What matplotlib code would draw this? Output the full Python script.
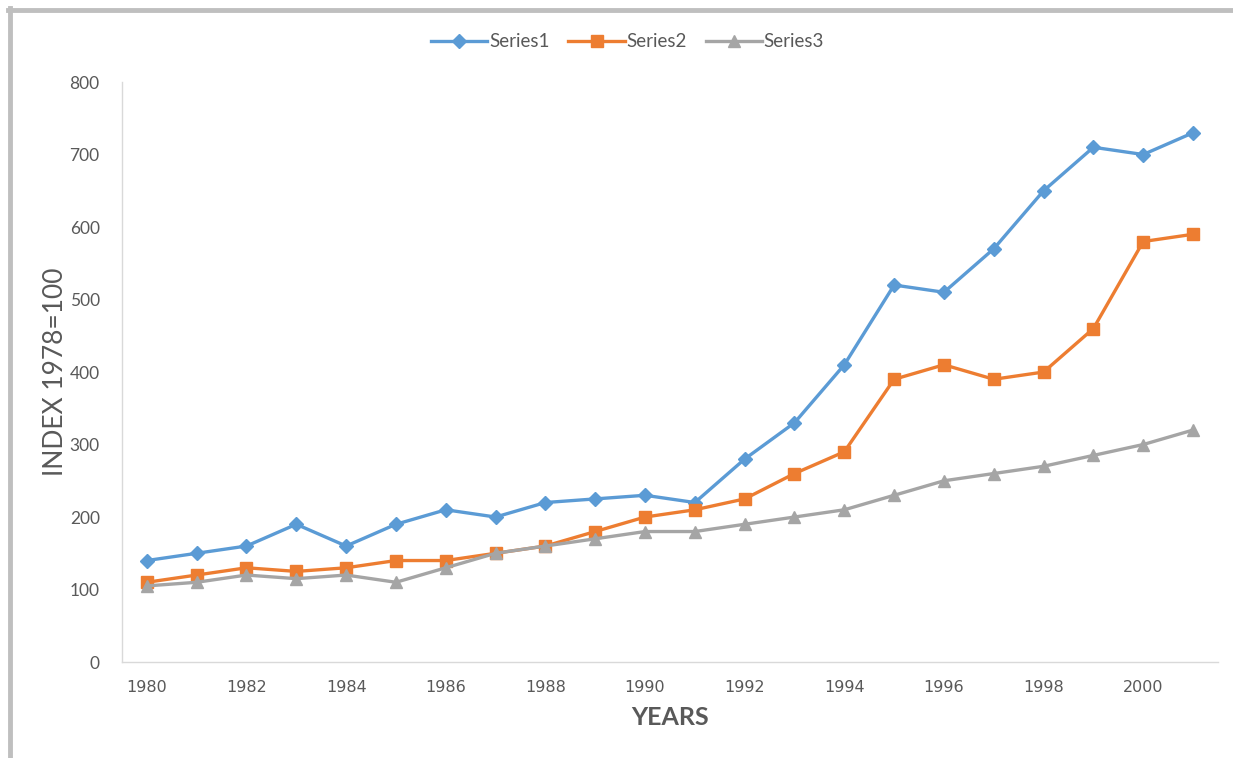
import matplotlib.pyplot as plt
from matplotlib.lines import Line2D

plt.rcParams['font.family'] = ['Lato', 'DejaVu Sans']

years = list(range(1980, 2002))
series1 = [140, 150, 160, 190, 160, 190, 210, 200, 220, 225, 230, 220,
           280, 330, 410, 520, 510, 570, 650, 710, 700, 730]
series2 = [110, 120, 130, 125, 130, 140, 140, 150, 160, 180, 200, 210,
           225, 260, 290, 390, 410, 390, 400, 460, 580, 590]
series3 = [105, 110, 120, 115, 120, 110, 130, 150, 160, 170, 180, 180,
           190, 200, 210, 230, 250, 260, 270, 285, 300, 320]
y_ticks = [0, 100, 200, 300, 400, 500, 600, 700, 800]

text_col = '#595959'
axis_col = '#D9D9D9'

fig = plt.figure(figsize=(12.33, 7.58), dpi=100)
ax = fig.add_axes([0.0989, 0.1266, 0.8889, 0.7652])

x = list(range(len(years)))
ax.plot(x, series1, color='#5B9BD5', lw=2.4, marker='D', ms=7, label='Series1')
ax.plot(x, series2, color='#ED7D31', lw=2.4, marker='s', ms=8.5, label='Series2')
ax.plot(x, series3, color='#A5A5A5', lw=2.4, marker='^', ms=9, label='Series3')

ax.set_xlim(-0.5, len(years) - 0.5)
ax.set_ylim(0, 800)
ax.set_yticks(y_ticks)
ax.set_xticks(x[::2])
ax.set_xticklabels([str(y) for y in years[::2]])

for s in ['top', 'right']:
    ax.spines[s].set_visible(False)
for s in ['left', 'bottom']:
    ax.spines[s].set_color(axis_col)
    ax.spines[s].set_linewidth(1)

ax.tick_params(axis='both', length=0, colors=text_col)
ax.tick_params(axis='y', labelsize=12.5, pad=16)
ax.tick_params(axis='x', labelsize=11.5, pad=13)
for lbl in ax.get_xticklabels():
    lbl.set_fontfamily(['DejaVu Sans'])

ax.set_ylabel('INDEX 1978=100', fontsize=19, color=text_col)
ax.yaxis.set_label_coords(-0.049, 0.5)
ax.set_xlabel('YEARS', fontsize=18, color=text_col, fontweight='bold', labelpad=8)

fig.legend(loc='center', bbox_to_anchor=(0.509, 0.945), ncol=3, frameon=False,
           fontsize=13.5, labelcolor=text_col, handlelength=3, handletextpad=0.1,
           columnspacing=1.0)

# grey frame of the screenshot
fig.add_artist(Line2D([8 / 1233, 1], [1 - 10 / 758, 1 - 10 / 758],
                      transform=fig.transFigure, color='#BFBFBF', lw=3.5))
fig.add_artist(Line2D([10 / 1233, 10 / 1233], [0, 1 - 8 / 758],
                      transform=fig.transFigure, color='#BFBFBF', lw=3.5))

fig.savefig('out.png', dpi=100)
